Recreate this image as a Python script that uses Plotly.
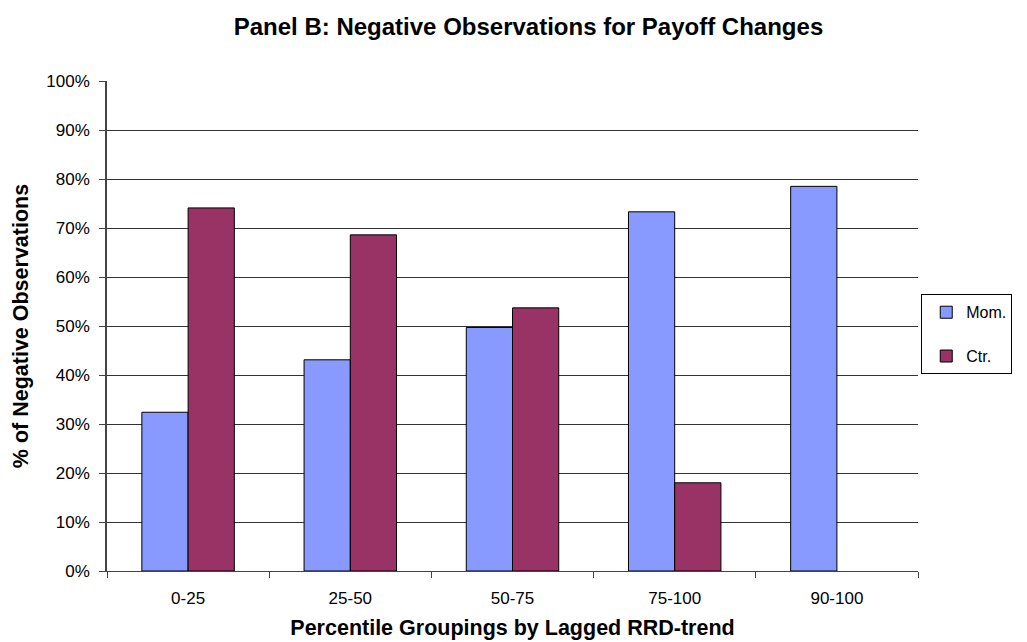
import plotly.graph_objects as go

categories = ["0-25", "25-50", "50-75", "75-100", "90-100"]
mom_values = [0.324, 0.431, 0.497, 0.733, 0.785]
ctr_values = [0.741, 0.686, 0.537, 0.180, None]
y_ticks = [0, 0.1, 0.2, 0.3, 0.4, 0.5, 0.6, 0.7, 0.8, 0.9, 1.0]

FONT = "Liberation Sans, Arial, Helvetica, sans-serif"

fig = go.Figure()
fig.add_trace(go.Bar(
    x=categories, y=mom_values, name="Mom.", legendgroup="a",
    marker=dict(color="#8899FF", line=dict(color="#000000", width=1)),
))
fig.add_trace(go.Bar(
    x=categories, y=ctr_values, name="Ctr.", legendgroup="b",
    marker=dict(color="#993366", line=dict(color="#000000", width=1)),
))

fig.update_layout(
    width=1027, height=642,
    margin=dict(l=107, r=109, t=81, b=71, autoexpand=False),
    paper_bgcolor="white", plot_bgcolor="white",
    barmode="group", bargap=0.43, bargroupgap=0,
    font=dict(family=FONT, size=17, color="black"),
    title=dict(
        text="<b>Panel B: Negative Observations for Payoff Changes</b>",
        x=0.5146, xanchor="center", y=0.958, yanchor="middle",
        font=dict(family=FONT, size=24, color="black"),
    ),
    showlegend=True,
    legend=dict(
        x=1.004, xanchor="left", y=0.483, yanchor="middle",
        bordercolor="black", borderwidth=1, bgcolor="white",
        font=dict(family=FONT, size=16),
        tracegroupgap=20,
        itemwidth=30,
        indentation=4,
    ),
)

fig.update_xaxes(
    automargin=False,
    showline=True, linecolor="#444444", linewidth=1,
    ticks="outside", ticklen=6, tickcolor="#444444",
    tickson="boundaries", ticklabelstandoff=12,
    title=dict(text="<b>Percentile Groupings by Lagged RRD-trend</b>",
               font=dict(family=FONT, size=21.5), standoff=12),
    tickfont=dict(family=FONT, size=17),
)
fig.update_yaxes(
    automargin=False,
    range=[0, 1.0], tickvals=y_ticks, tickformat=".0%",
    showline=True, linecolor="#444444", linewidth=1.5,
    ticks="outside", ticklen=6, tickcolor="#444444",
    ticklabelstandoff=6,
    showgrid=True, gridcolor="#333333", gridwidth=1,
    title=dict(text="<b>% of Negative Observations</b>",
               font=dict(family=FONT, size=21.5), standoff=12),
    tickfont=dict(family=FONT, size=17),
)

fig.write_html("out.html")
